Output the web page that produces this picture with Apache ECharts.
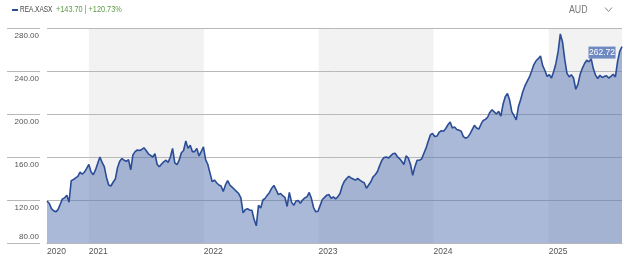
<!DOCTYPE html>
<html><head><meta charset="utf-8">
<script src="https://cdn.jsdelivr.net/npm/echarts@6/dist/echarts.min.js"></script>
<style>html,body{margin:0;padding:0;background:#fff}#c{width:624px;height:264px}</style>
</head><body><div id="c"></div>
<script>
const ticker = 'REA.XASX';
const changeText = '+143.70 | +120.73%';
const currency = 'AUD';
const startDate = '2020-08-21';
const yMin = 80, yMax = 280, yStep = 40;
const bandRanges = [['2021-01-01','2022-01-01'],['2023-01-01','2024-01-01'],['2025-01-01','2025-08-22']];
const prices = [
119,117,112,110,109,111,116,121,122,124.5,
118,138,139,140.5,142,146,144,146,149.5,153,
146,143.5,148,154,160,155,151,141,134,133,
136.5,139.5,150,156,158.5,157,156,157.5,148,162,
165,166.5,166,167,168.5,166,163,161.5,160,163,
153,151,153.5,155.5,157,155,160,168,154.5,153,
157,164,166,175,168,171,165,165,168,161,
165,169.5,157.5,153,145,137,138.5,136,134,133,
128,134,138,134,132,130,128,126,122,108,
111,112,110.5,110.5,102,96,115,112.5,120,121.5,
124.5,127,131,133.5,129.5,125,126,124,122.5,114,
127,118,115,119,119.5,117,120,122,123,127,
121.5,113,109,109.5,115,120.5,122.5,124.5,125,121.5,
123,121,123,126,133,137.5,140,142,140.5,139.5,
138.5,140,138.5,137,136,131,134,137,141.5,143.5,
146.5,152,157,159.5,160,159,161,163,163.5,160.5,
158.5,156,153,161,159,153,143,151,157,157,
158,163,168,174.5,180.5,182,179,179.5,183,184.5,
184,186.5,190,192.5,187,188,185.5,185,184,179,
177.5,178.5,181.5,185.5,189.5,187,186,190.5,194,195,
197,201.5,204,202,200,202.5,198,209,216,219,
213,202,198.5,194.5,207,213.5,221,226.5,230.5,234.5,
240,246,249.5,251.5,254,245,240.5,235,236.5,233.5,
239.5,247,258,274.5,267,251,238,234.5,236.5,233.5,
223,227.5,237,242.5,247,250,248.5,251.5,242,236,
233,236,234,235,235.5,233.5,235,237,234.5,249,
258.5,262.72
];

const F = "'Liberation Sans Narrow','Arial Narrow','Liberation Sans',Arial,sans-serif";
const DAY = 86400000;
const t0 = Date.parse(startDate + 'T00:00:00Z');
const dates = prices.map((_, i) => t0 + i * 7 * DAY);
const seriesData = prices.map((v, i) => [dates[i], v]);
const xMin = dates[0], xMax = dates[dates.length - 1];
const last = seriesData[seriesData.length - 1];
const bands = bandRanges.map(r => [{xAxis: Date.parse(r[0] + 'T00:00:00Z')}, {xAxis: Math.min(Date.parse(r[1] + 'T00:00:00Z'), xMax)}]);

const chart = echarts.init(document.getElementById('c'), null, {renderer: 'canvas'});
chart.setOption({
  animation: false,
  useUTC: true,
  backgroundColor: '#fff',
  graphic: [
    {type: 'rect', shape: {x: 12, y: 9, width: 6, height: 2}, style: {fill: '#2b4c96'}},
    {type: 'text', x: 20, y: 10, scaleX: 0.76, style: {text: ticker, fontFamily: F, fontSize: 8.5, fill: '#444', verticalAlign: 'middle', align: 'left'}},
    {type: 'text', x: 56, y: 10, scaleX: 0.86, style: {text: changeText, fontFamily: F, fontSize: 8.5, fill: '#5a9a45', verticalAlign: 'middle', align: 'left'}},
    {type: 'text', x: 569, y: 10, scaleX: 0.88, style: {text: currency, fontFamily: F, fontSize: 10, fill: '#777', verticalAlign: 'middle', align: 'left'}},
    {type: 'polyline', shape: {points: [[605, 7.5], [608.5, 11.5], [612, 7.5]]}, style: {stroke: '#888', lineWidth: 1, fill: null}}
  ],
  grid: [
    {left: 47, right: 2, top: 28, bottom: 21},
    {left: 7, width: 33, top: 28, bottom: 21}
  ],
  xAxis: [
    {type: 'time', gridIndex: 0, min: xMin, max: xMax,
     axisLine: {show: true, lineStyle: {color: '#9a9a9a', width: 1}},
     axisTick: {show: false}, splitLine: {show: false},
     axisLabel: {
       color: '#555', fontFamily: F, fontSize: 8.5, align: 'left', margin: 4,
       showMinLabel: true, showMaxLabel: false, hideOverlap: false,
       formatter: function (v) {
         const d = new Date(v);
         if (v === xMin) return String(d.getUTCFullYear());
         if (d.getUTCMonth() === 0 && d.getUTCDate() === 1) return String(d.getUTCFullYear());
         return '';
       }
     }},
    {type: 'value', gridIndex: 1, show: false, min: 0, max: 1}
  ],
  yAxis: [
    {type: 'value', gridIndex: 0, min: yMin, max: yMax, interval: yStep, z: 1.5,
     axisLine: {show: false}, axisTick: {show: false},
     splitLine: {show: true, lineStyle: {color: '#b8b8b8', width: 1}},
     axisLabel: {
       margin: 8, color: '#555', fontFamily: F, fontSize: 8,
       formatter: v => v === yMin ? '{b|' + v.toFixed(2) + '}' : '{a|' + v.toFixed(2) + '}',
       rich: {
         a: {padding: [15, 0, 0, 0], fontFamily: F, fontSize: 8, color: '#555'},
         b: {padding: [0, 0, 12, 0], fontFamily: F, fontSize: 8, color: '#555'}
       }
     }},
    {type: 'value', gridIndex: 1, min: yMin, max: yMax, interval: yStep,
     axisLine: {show: false}, axisTick: {show: false}, axisLabel: {show: false},
     splitLine: {show: true, lineStyle: {color: '#b8b8b8', width: 1}}}
  ],
  series: [{
    type: 'line', xAxisIndex: 0, yAxisIndex: 0, data: seriesData,
    symbol: 'none', showSymbol: false, z: 2,
    lineStyle: {color: '#2b4c96', width: 1.6},
    areaStyle: {color: 'rgb(85,115,175)', opacity: 0.5},
    markArea: {silent: true, z: 1, itemStyle: {color: '#f2f2f2'}, data: bands},
    markPoint: {
      silent: true,
      data: [{coord: last, symbol: 'rect', symbolSize: [27, 12], symbolOffset: [-20, 6],
              itemStyle: {color: '#6f89c1'},
              label: {show: true, position: 'inside', color: '#fff', fontFamily: F, fontSize: 8.5,
                      formatter: String(last[1])}}]
    }
  }]
});
</script></body></html>
